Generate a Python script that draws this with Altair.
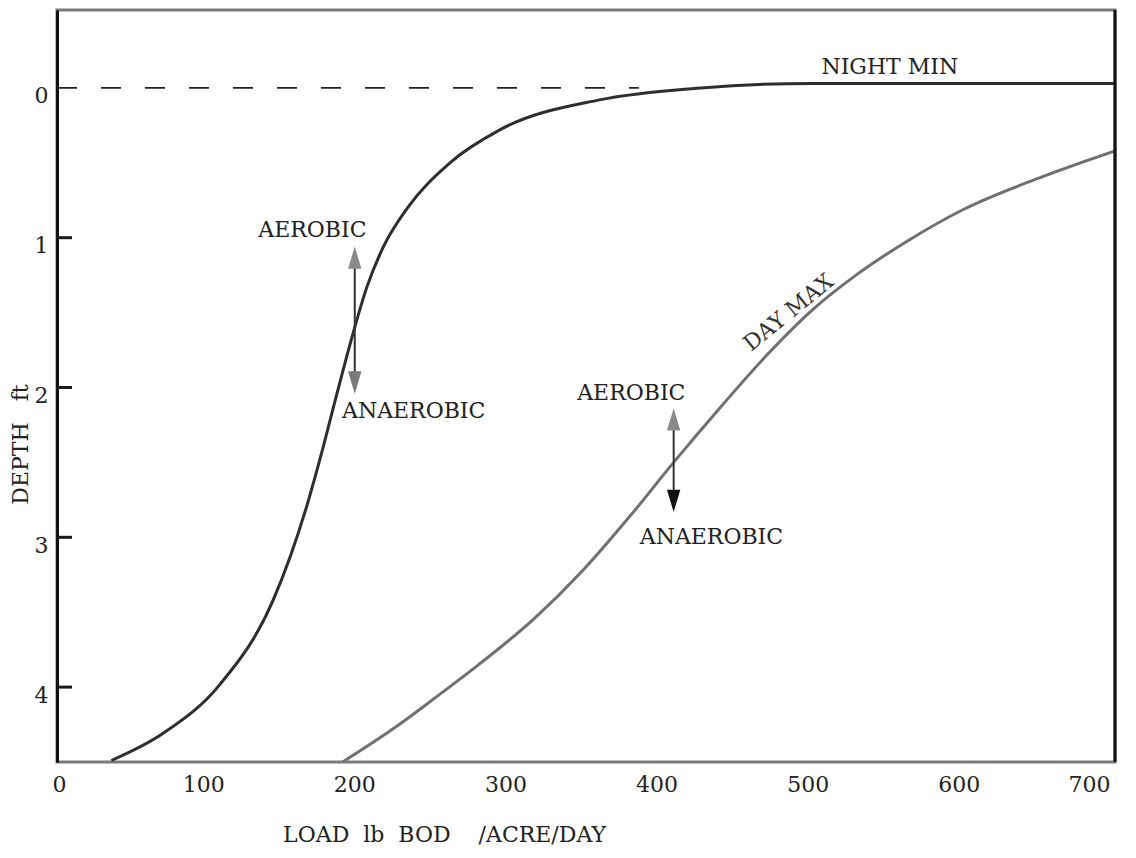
import altair as alt
import pandas as pd

FONT = "DejaVu Serif"
NB = "\u00a0"

# Night minimum curve (load lb BOD/acre/day vs depth ft)
night_x = [36, 70, 108, 143, 165, 175, 185, 195, 205, 216, 232, 260, 293, 359, 426, 500, 642, 700]
night_y = [4.49, 4.31, 3.98, 3.42, 2.80, 2.44, 2.05, 1.67, 1.33, 1.06, 0.80, 0.50, 0.28, 0.08, 0.0, -0.03, -0.03, -0.03]

# Day maximum curve
day_x = [189, 225, 253, 279, 315, 348, 379, 408, 440, 470, 500, 530, 563, 600, 650, 700]
day_y = [4.50, 4.26, 4.05, 3.85, 3.55, 3.22, 2.86, 2.50, 2.12, 1.78, 1.48, 1.24, 1.02, 0.81, 0.60, 0.42]

# dashed zero-depth reference
dash_x = [0, 385]
dash_y = [0, 0]

# arrows (aerobic / anaerobic boundary)
arrow_x = [197, 408]
arrow_top = [1.06, 2.14]
arrow_bot = [2.04, 2.83]
arrow_up_color = ["#8a8a8a", "#8a8a8a"]
arrow_down_color = ["#7a7a7a", "#111111"]

# annotation labels
label_text = ["NIGHT MIN", "AEROBIC", "ANAEROBIC", "AEROBIC", "ANAEROBIC"]
label_x = [551, 169, 236, 380, 433]
label_y = [-0.14, 0.95, 2.16, 2.04, 3.0]

daymax_text = ["DAY MAX"]
daymax_x = [484]
daymax_y = [1.50]

x_ticks = [0, 100, 200, 300, 400, 500, 600, 700]
y_ticks = [0, 1, 2, 3, 4]
y_inner_ticks = [1, 2, 3, 4]

X_TITLE = "LOAD" + NB * 2 + "lb" + NB * 2 + "BOD" + NB * 4 + "/ACRE/DAY"
Y_TITLE = "DEPTH" + NB * 3 + "ft"

X_DOMAIN = [0, 700]
Y_DOMAIN = [-0.52, 4.5]
HEAD = 0.073  # arrowhead half-length in depth units

xscale = alt.Scale(domain=X_DOMAIN, nice=False, zero=False)
yscale = alt.Scale(domain=Y_DOMAIN, reverse=True, nice=False, zero=False)

xaxis = alt.Axis(values=x_ticks, format="d", title=X_TITLE, ticks=False, domain=False,
                 grid=False, labelFont=FONT, labelFontSize=22, labelColor="#222222",
                 labelPadding=12, labelOffset=-5, titleFont=FONT, titleFontSize=22,
                 titleFontWeight="normal", titleColor="#222222", titleX=387, titleY=72,
                 titleAlign="center", titleBaseline="middle")
yaxis = alt.Axis(values=y_ticks, format="d", title=Y_TITLE, ticks=False, domain=True,
                 domainColor="#111111", domainWidth=3, grid=False, labelFont=FONT,
                 labelFontSize=22, labelColor="#222222", labelPadding=9, labelOffset=8,
                 titleFont=FONT, titleFontSize=22, titleFontWeight="normal",
                 titleColor="#222222", titleX=-37, titleY=434, titleAngle=270,
                 titleAlign="center", titleBaseline="middle")

night = alt.Chart(pd.DataFrame({"x": night_x, "y": night_y})).mark_line(
    color="#2e2e2e", strokeWidth=3, interpolate="monotone", clip=True
).encode(x=alt.X("x:Q", scale=xscale, axis=xaxis), y=alt.Y("y:Q", scale=yscale, axis=yaxis))

day = alt.Chart(pd.DataFrame({"x": day_x, "y": day_y})).mark_line(
    color="#707070", strokeWidth=3, interpolate="monotone", clip=True
).encode(x=alt.X("x:Q", scale=xscale), y=alt.Y("y:Q", scale=yscale))

dash = alt.Chart(pd.DataFrame({"x": dash_x, "y": dash_y})).mark_line(
    color="#222222", strokeWidth=1.6, strokeDash=[20, 24]
).encode(x=alt.X("x:Q", scale=xscale), y=alt.Y("y:Q", scale=yscale))

arr = pd.DataFrame({
    "x": arrow_x,
    "top": [t + HEAD for t in arrow_top],
    "bot": [b - HEAD for b in arrow_bot],
})
shafts = alt.Chart(arr).mark_rule(color="#333333", strokeWidth=2).encode(
    x=alt.X("x:Q", scale=xscale), y=alt.Y("top:Q", scale=yscale), y2="bot:Q")

heads = pd.DataFrame({
    "x": arrow_x + arrow_x,
    "y": [t + HEAD for t in arrow_top] + [b - HEAD for b in arrow_bot],
    "shape": ["M0,-1L0.6,1L-0.6,1Z"] * 2 + ["M0,1L0.6,-1L-0.6,-1Z"] * 2,
    "color": arrow_up_color + arrow_down_color,
})
arrowheads = alt.Chart(heads).mark_point(filled=True, size=500, opacity=1).encode(
    x=alt.X("x:Q", scale=xscale), y=alt.Y("y:Q", scale=yscale),
    shape=alt.Shape("shape:N", scale=None), color=alt.Color("color:N", scale=None))

labels = alt.Chart(pd.DataFrame({"x": label_x, "y": label_y, "t": label_text})).mark_text(
    font=FONT, fontSize=22, color="#222222", align="center", baseline="middle"
).encode(x=alt.X("x:Q", scale=xscale), y=alt.Y("y:Q", scale=yscale), text="t:N")

daymax = alt.Chart(pd.DataFrame({"x": daymax_x, "y": daymax_y, "t": daymax_text})).mark_text(
    font=FONT, fontSize=22, color="#333333", align="center", baseline="middle", angle=321
).encode(x=alt.X("x:Q", scale=xscale), y=alt.Y("y:Q", scale=yscale), text="t:N")

inner_ticks = alt.Chart(pd.DataFrame({"y": y_inner_ticks})).mark_rule(
    color="#1a1a1a", strokeWidth=3
).encode(x=alt.value(0), x2=alt.value(15), y=alt.Y("y:Q", scale=yscale))

right_border = alt.Chart(pd.DataFrame({"x": [X_DOMAIN[1]]})).mark_rule(
    color="#111111", strokeWidth=3
).encode(x=alt.X("x:Q", scale=xscale), y=alt.value(0), y2=alt.value(752))

chart = alt.layer(
    dash, night, day, shafts, arrowheads, labels, daymax, inner_ticks, right_border
).properties(
    width=1058, height=752,
    autosize=alt.AutoSizeParams(type="none"),
    padding={"left": 49, "top": 2, "right": 8, "bottom": 86},
    background="white",
).configure_view(stroke="#7a7a7a", strokeWidth=3)

chart.save("out.html", embed_options={"renderer": "svg", "actions": False})
